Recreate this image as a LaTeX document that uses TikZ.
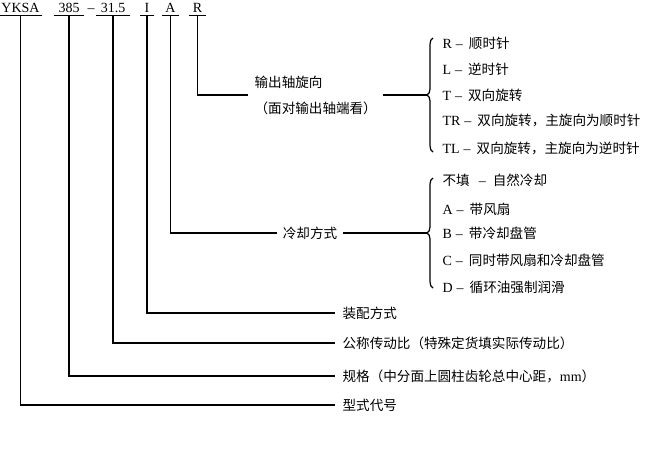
\documentclass[tikz,border=0pt]{standalone}
\usepackage{fontspec}
\setmainfont{Liberation Serif}
\newfontfamily\cjk{Noto Sans CJK SC}[Scale=0.97]
\usetikzlibrary{decorations.pathreplacing}
\newcommand{\zh}[1]{{\cjk #1}}
\newcommand{\dd}{\hspace{4pt}–\hspace{6pt}}
\begin{document}
\begin{tikzpicture}[x=1pt,y=-1pt,
  font=\fontsize{14}{26}\selectfont,
  line width=1.2pt,
  code/.style={anchor=base,inner xsep=1.5pt,inner ysep=2.5pt,text depth=0pt,text height=10pt},
  lbl/.style={anchor=west,inner xsep=7pt,inner ysep=0pt,text height=12pt,text depth=1.6pt},
  mid/.style={inner xsep=5pt,inner ysep=0pt,text height=12pt,text depth=1.6pt},
  item/.style={anchor=base west,inner sep=0pt},
  bracebig/.style={decorate,decoration={brace,amplitude=6pt}}
]
\useasboundingbox (0,0) rectangle (650,450);

% code letters
\node[code,minimum width=41pt] (yksa) at (20.5,12) {YKSA};
\node[code,minimum width=28pt] (n385) at (69,12) {385};
\node[anchor=base,inner sep=0pt] (dash) at (91,12) {–};
\node[code,minimum width=32pt] (n315) at (113,12) {31.5};
\node[code,minimum width=12pt] (nI) at (147,12) {I};
\node[code,minimum width=15pt] (nA) at (170.5,12) {A};
\node[code,minimum width=15pt] (nR) at (197.5,12) {R};
\foreach \n in {yksa,n385,n315,nI,nA,nR}
  \draw (\n.south west) -- (\n.south east);

% bottom labels
\node[lbl] (l1) at (335,405) {\zh{型式代号}};
\node[lbl] (l2) at (335,376) {\zh{规格（中分面上圆柱齿轮总中心距，}mm\zh{）}};
\node[lbl] (l3) at (335,343) {\zh{公称传动比（特殊定货填实际传动比）}};
\node[lbl] (l4) at (335,313) {\zh{装配方式}};

\draw (yksa.south) |- (l1.west);
\draw (n385.south) |- (l2.west);
\draw (n315.south) |- (l3.west);
\draw (nI.south) |- (l4.west);

% cooling
\node[mid] (cool) at (310,233) {\zh{冷却方式}};
\coordinate (cooltip) at (427,233);
\draw (nA.south) |- (cool.west);
\draw (cool.east) -- (cooltip);
\draw[bracebig] (433,288) -- (433,178);
\node[item] (c0) at (442,185) {\zh{不填}\hspace{9pt}–\hspace{7pt}\zh{自然冷却}};
\node[item] (c1) at (442,214) {A\dd\zh{带风扇}};
\node[item] (c2) at (442,238) {B\dd\zh{带冷却盘管}};
\node[item] (c3) at (442,265) {C\dd\zh{同时带风扇和冷却盘管}};
\node[item] (c4) at (442,292) {D\dd\zh{循环油强制润滑}};

% rotation
\node[anchor=west,align=left,inner xsep=6pt,inner ysep=0pt] (rot) at (248,95)
  {\zh{输出轴旋向}\\\zh{（面对输出轴端看）}};
\coordinate (rottip) at (427,95);
\draw (nR.south) |- (rot.west);
\draw (rot.east) -- (rottip);
\draw[bracebig] (433,152) -- (433,38);
\node[item] (r0) at (442,48) {R\dd\zh{顺时针}};
\node[item] (r1) at (442,74) {L\dd\zh{逆时针}};
\node[item] (r2) at (442,100) {T\dd\zh{双向旋转}};
\node[item] (r3) at (442,125) {TR\dd\zh{双向旋转，主旋向为顺时针}};
\node[item] (r4) at (442,153) {TL\dd\zh{双向旋转，主旋向为逆时针}};
\end{tikzpicture}
\end{document}
